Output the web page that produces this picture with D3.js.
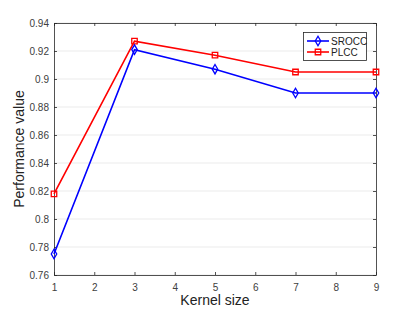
<!DOCTYPE html>
<html>
<head>
<meta charset="utf-8">
<script src="https://cdn.jsdelivr.net/npm/d3@7"></script>
<style>
  body { margin: 0; background: #fff; }
  text { font-family: "Liberation Sans", Arial, sans-serif; }
</style>
</head>
<body>
<script>
'use strict';

// chart data
const kernelSizes = [1, 3, 5, 7, 9];
const srocc = [0.775, 0.921, 0.907, 0.890, 0.890];
const plcc = [0.818, 0.927, 0.917, 0.905, 0.905];
const xTicks = [1, 2, 3, 4, 5, 6, 7, 8, 9];
const yTicks = [0.76, 0.78, 0.8, 0.82, 0.84, 0.86, 0.88, 0.9, 0.92, 0.94];

const W = 415, H = 312;
const plot = {left: 54, right: 376, top: 23, bottom: 275};

const svg = d3.select('body').append('svg')
  .attr('width', W)
  .attr('height', H);

const x = d3.scaleLinear().domain([1, 9]).range([plot.left, plot.right]);
const y = d3.scaleLinear().domain([0.76, 0.94]).range([plot.bottom, plot.top]);

// horizontal grid lines
svg.append('g')
  .selectAll('line')
  .data(yTicks)
  .enter()
  .append('line')
    .attr('x1', plot.left)
    .attr('x2', plot.right)
    .attr('y1', d => y(d))
    .attr('y2', d => y(d))
    .attr('stroke', '#ebebeb')
    .attr('stroke-width', 1);

const axisColor = '#262626';
const tickFmt = d => d3.format('')(+d.toFixed(2));

// bottom axis
const xAxis = svg.append('g')
  .attr('transform', 'translate(0,' + plot.bottom + ')')
  .call(d3.axisBottom(x).tickValues(xTicks).tickSizeInner(-3).tickSizeOuter(0).tickPadding(9));
// left axis
const yAxis = svg.append('g')
  .attr('transform', 'translate(' + plot.left + ',0)')
  .call(d3.axisLeft(y).tickValues(yTicks).tickFormat(tickFmt).tickSizeInner(-3).tickSizeOuter(0).tickPadding(5));
// top axis
const xTop = svg.append('g')
  .attr('transform', 'translate(0,' + plot.top + ')')
  .call(d3.axisTop(x).tickValues(xTicks).tickFormat('').tickSizeInner(-3).tickSizeOuter(0));
// right axis
const yRight = svg.append('g')
  .attr('transform', 'translate(' + plot.right + ',0)')
  .call(d3.axisRight(y).tickValues(yTicks).tickFormat('').tickSizeInner(-3).tickSizeOuter(0));

[xAxis, yAxis, xTop, yRight].forEach(g => {
  g.select('.domain').attr('stroke', axisColor).attr('stroke-width', 0.8);
  g.selectAll('.tick line').attr('stroke', axisColor).attr('stroke-width', 0.8);
  g.selectAll('text')
    .attr('fill', '#404040')
    .style('font-size', '10px');
});

// lines
const line = d3.line()
  .x((d, i) => x(kernelSizes[i]))
  .y(d => y(d));

svg.append('path')
  .datum(plcc)
  .attr('d', line)
  .attr('fill', 'none')
  .attr('stroke', '#ff0000')
  .attr('stroke-width', 1.6);

svg.append('path')
  .datum(srocc)
  .attr('d', line)
  .attr('fill', 'none')
  .attr('stroke', '#0000ff')
  .attr('stroke-width', 1.6);

// markers
const diamond = d3.symbol().type(d3.symbolDiamond).size(26);
const square = d3.symbol().type(d3.symbolSquare).size(30);

svg.append('g')
  .selectAll('path')
  .data(plcc)
  .enter()
  .append('path')
    .attr('d', square)
    .attr('transform', (d, i) => 'translate(' + x(kernelSizes[i]) + ',' + y(d) + ')')
    .attr('fill', 'none')
    .attr('stroke', '#ff0000')
    .attr('stroke-width', 1.3);

svg.append('g')
  .selectAll('path')
  .data(srocc)
  .enter()
  .append('path')
    .attr('d', diamond)
    .attr('transform', (d, i) => 'translate(' + x(kernelSizes[i]) + ',' + y(d) + ')')
    .attr('fill', 'none')
    .attr('stroke', '#0000ff')
    .attr('stroke-width', 1.3);

// legend
const legend = svg.append('g');
legend.append('rect')
  .attr('x', 303.5)
  .attr('y', 32.5)
  .attr('width', 63)
  .attr('height', 28)
  .attr('fill', '#fff')
  .attr('stroke', '#262626')
  .attr('stroke-width', 0.8);

const legendItems = [
  {name: 'SROCC', color: '#0000ff', sym: diamond, yy: 41},
  {name: 'PLCC', color: '#ff0000', sym: square, yy: 52}
];
legendItems.forEach(item => {
  legend.append('line')
    .attr('x1', 307).attr('x2', 329)
    .attr('y1', item.yy).attr('y2', item.yy)
    .attr('stroke', item.color)
    .attr('stroke-width', 1.6);
  legend.append('path')
    .attr('d', item.sym)
    .attr('transform', 'translate(318,' + item.yy + ')')
    .attr('fill', 'none')
    .attr('stroke', item.color)
    .attr('stroke-width', 1.3);
  legend.append('text')
    .attr('x', 331)
    .attr('y', item.yy + 3.5)
    .attr('fill', '#222')
    .style('font-size', '10px')
    .text(item.name);
});

// axis labels
svg.append('text')
  .attr('x', (plot.left + plot.right) / 2)
  .attr('y', 305)
  .attr('text-anchor', 'middle')
  .attr('fill', '#222')
  .style('font-size', '14px')
  .text('Kernel size');

svg.append('text')
  .attr('transform', 'translate(24,' + (plot.top + plot.bottom) / 2 + ')rotate(-90)')
  .attr('text-anchor', 'middle')
  .attr('fill', '#222')
  .style('font-size', '14px')
  .text('Performance value');
</script>
</body>
</html>
